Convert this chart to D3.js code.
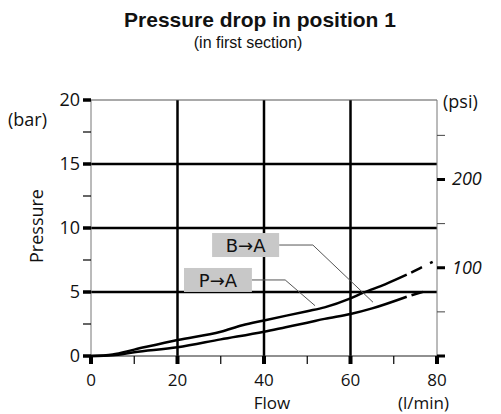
<!DOCTYPE html>
<html>
<head>
<meta charset="utf-8">
<script src="https://cdn.jsdelivr.net/npm/d3@7"></script>
<style>
  body { margin: 0; background: #fff; }
  svg text { font-family: "Open Sans", "Noto Sans", sans-serif; fill: #111; }
  svg text.title { font-family: "Liberation Sans", Arial, sans-serif; }
  svg text.tag { font-family: "DejaVu Sans", sans-serif; }
</style>
</head>
<body>
<div id="chart"></div>
<script>
// valores
var flowB = [0, 5, 10, 20, 30, 35, 40, 50, 54, 60, 63, 68, 73];
var presB = [0, 0.12, 0.5, 1.25, 1.9, 2.4, 2.78, 3.5, 3.8, 4.5, 4.95, 5.6, 6.35];
var flowBDash = [73, 76, 79];
var presBDash = [6.35, 6.85, 7.35];

var flowP = [0, 5, 10, 20, 30, 40, 45, 50, 54, 60, 65, 73];
var presP = [0, 0.06, 0.3, 0.68, 1.3, 1.9, 2.25, 2.6, 2.9, 3.28, 3.72, 4.63];
var flowPDash = [73, 78.6];
var presPDash = [4.63, 5.2];

var xTicks = [0, 20, 40, 60, 80];
var xMinor = [10, 30, 50, 70];
var yTicks = [0, 5, 10, 15, 20];
var yMinor = [2.5, 7.5, 12.5, 17.5];
var psiTicks = [0, 100, 200];
var psiMinor = [50, 150, 250];

var BAR_TO_PSI = 14.5038;

var width = 501, height = 414;
var svg = d3.select("#chart").append("svg")
    .attr("width", width).attr("height", height);

var x = d3.scaleLinear().domain([0, 80]).range([91, 437]);
var y = d3.scaleLinear().domain([0, 20]).range([356, 100]);
var yPsi = d3.scaleLinear().domain([0, 20 * BAR_TO_PSI]).range([356, 100]);

// titulos
svg.append("text").attr("class", "title").attr("x", 260).attr("y", 27).attr("text-anchor", "middle")
    .style("font-size", "21px").style("font-weight", "bold")
    .text("Pressure drop in position 1");
svg.append("text").attr("class", "title").attr("x", 248).attr("y", 48).attr("text-anchor", "middle")
    .style("font-size", "16px").text("(in first section)");

// rejilla
var grid = svg.append("g");
grid.selectAll(".hg").data([5, 10, 15]).enter().append("line")
    .attr("x1", x(0)).attr("x2", x(80))
    .attr("y1", d => y(d)).attr("y2", d => y(d))
    .attr("stroke", "#000").attr("stroke-width", 2.5);
grid.selectAll(".vg").data([20, 40, 60]).enter().append("line")
    .attr("x1", d => x(d)).attr("x2", d => x(d))
    .attr("y1", y(0)).attr("y2", y(20))
    .attr("stroke", "#000").attr("stroke-width", 2.5);

// bordes
svg.append("line").attr("x1", x(0)).attr("x2", x(80)).attr("y1", y(20)).attr("y2", y(20))
    .attr("stroke", "#555").attr("stroke-width", 1);
svg.append("line").attr("x1", x(0)).attr("x2", x(0)).attr("y1", y(0)).attr("y2", y(20))
    .attr("stroke", "#777").attr("stroke-width", 1);
svg.append("line").attr("x1", x(80)).attr("x2", x(80)).attr("y1", y(0)).attr("y2", y(20))
    .attr("stroke", "#777").attr("stroke-width", 1);
svg.append("line").attr("x1", x(0)).attr("x2", x(80) + 8).attr("y1", y(0)).attr("y2", y(0))
    .attr("stroke", "#222").attr("stroke-width", 1.2);

// eje izquierdo
var left = svg.append("g");
left.selectAll(".mj").data(yTicks).enter().append("line")
    .attr("x1", x(0) - 8).attr("x2", x(0))
    .attr("y1", d => y(d)).attr("y2", d => y(d))
    .attr("stroke", "#000").attr("stroke-width", 3.5);
left.selectAll(".mn").data(yMinor).enter().append("line")
    .attr("x1", x(0) - 8).attr("x2", x(0))
    .attr("y1", d => y(d)).attr("y2", d => y(d))
    .attr("stroke", "#000").attr("stroke-width", 1.2);
left.selectAll("text").data(yTicks).enter().append("text")
    .attr("x", 80).attr("y", d => y(d) + 6)
    .attr("text-anchor", "end").style("font-size", "18px")
    .text(d => d);

// eje inferior
var bottom = svg.append("g");
bottom.selectAll(".mj").data(xTicks).enter().append("line")
    .attr("x1", d => x(d)).attr("x2", d => x(d))
    .attr("y1", y(0)).attr("y2", y(0) + 8)
    .attr("stroke", "#000").attr("stroke-width", 4);
bottom.selectAll(".mn").data(xMinor).enter().append("line")
    .attr("x1", d => x(d)).attr("x2", d => x(d))
    .attr("y1", y(0)).attr("y2", y(0) + 8)
    .attr("stroke", "#000").attr("stroke-width", 1.2);
bottom.selectAll("text").data(xTicks).enter().append("text")
    .attr("x", d => x(d)).attr("y", 386)
    .attr("text-anchor", "middle").style("font-size", "17px")
    .text(d => d);

// eje derecho (psi)
var right = svg.append("g");
right.selectAll(".mj").data(psiTicks).enter().append("line")
    .attr("x1", x(80)).attr("x2", x(80) + 8)
    .attr("y1", d => yPsi(d)).attr("y2", d => yPsi(d))
    .attr("stroke", "#000").attr("stroke-width", 3);
right.selectAll(".mn").data(psiMinor).enter().append("line")
    .attr("x1", x(80)).attr("x2", x(80) + 8)
    .attr("y1", d => yPsi(d)).attr("y2", d => yPsi(d))
    .attr("stroke", "#444").attr("stroke-width", 1);
right.selectAll("text").data(psiTicks.filter(d => d > 0)).enter().append("text")
    .attr("x", 452).attr("y", d => yPsi(d) + 6)
    .style("font-size", "18px").style("font-style", "italic")
    .text(d => d);

// etiquetas de ejes
svg.append("text").attr("x", 8).attr("y", 126).style("font-size", "18px").text("(bar)");
svg.append("text").attr("x", 443).attr("y", 108).style("font-size", "18px").text("(psi)");
svg.append("text").attr("transform", "translate(43,226) rotate(-90)")
    .attr("text-anchor", "middle").style("font-size", "18px").text("Pressure");
svg.append("text").attr("x", 272).attr("y", 409).attr("text-anchor", "middle")
    .style("font-size", "17px").text("Flow");
svg.append("text").attr("x", 449).attr("y", 409).attr("text-anchor", "end")
    .style("font-size", "17px").text("(l/min)");

// curvas
var line = d3.line().x(d => x(d[0])).y(d => y(d[1])).curve(d3.curveMonotoneX);
var curves = svg.append("g").attr("fill", "none").attr("stroke", "#000").attr("stroke-width", 2.5);
curves.append("path").attr("d", line(d3.zip(flowB, presB)));
curves.append("path").attr("d", line(d3.zip(flowBDash, presBDash)))
    .attr("stroke-dasharray", "0 5 12 4");
curves.append("path").attr("d", line(d3.zip(flowP, presP)));
curves.append("path").attr("d", line(d3.zip(flowPDash, presPDash)))
    .attr("stroke-dasharray", "0 5 12 4");

// anotaciones (en unidades de datos)
var labels = [
    {text: "B\u2192A", x0: 28, x1: 43.5, yc: 8.67, elbow: 51.3, endX: 65.2, endY: 4.2},
    {text: "P\u2192A", x0: 21.5, x1: 37.2, yc: 5.94, elbow: 44.9, endX: 51.8, endY: 3.93}
];
var ann = svg.append("g");
labels.forEach(function (l) {
    ann.append("path")
        .attr("d", `M${x(l.x1)},${y(l.yc)}H${x(l.elbow)}L${x(l.endX)},${y(l.endY)}`)
        .attr("fill", "none").attr("stroke", "#555").attr("stroke-width", 1);
    ann.append("rect")
        .attr("x", x(l.x0)).attr("y", y(l.yc) - 12)
        .attr("width", x(l.x1) - x(l.x0)).attr("height", 24)
        .attr("fill", "#c8c8c8");
    ann.append("text").attr("class", "tag")
        .attr("x", (x(l.x0) + x(l.x1)) / 2).attr("y", y(l.yc) + 7)
        .attr("text-anchor", "middle").style("font-size", "18px")
        .text(l.text);
});
</script>
</body>
</html>
